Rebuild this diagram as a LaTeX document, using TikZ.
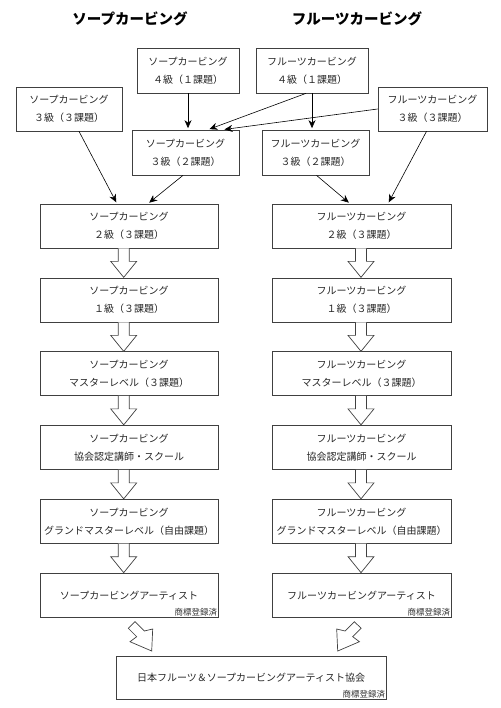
\documentclass[tikz,border=0pt]{standalone}
\usepackage{fontspec}
\setmainfont{Noto Sans CJK JP}
\usetikzlibrary{arrows.meta}
\begin{document}
\begin{tikzpicture}[x=1pt,y=-1pt,
 box/.style={draw=black!75, line width=0.7pt, inner sep=0pt, align=center, minimum height=44pt, font=\fontsize{10}{18}\selectfont, text=black!85},
 title/.style={font=\fontsize{14.5}{16}\selectfont\bfseries},
 tm/.style={font=\fontsize{8.5}{9}\selectfont, inner sep=1pt, anchor=south east, text=black!80},
 thin/.style={-{Stealth[length=8pt,width=7pt]}, line width=0.6pt, shorten >=1.5pt},
 hollow/.style={draw=black!75, line width=0.7pt, fill=white},
 vhollow/.pic={\draw[hollow] (-5.5,0) -- (-5.5,13) -- (-13,13) -- (0,29) -- (13,13) -- (5.5,13) -- (5.5,0);}
]
\useasboundingbox (0,0) rectangle (500,708);

\node[title] (t1) at (130,19) {ソープカービング};
\node[title] (t2) at (357,19) {フルーツカービング};

\node[box, minimum width=102pt, minimum height=45pt] (s4) at (188,70.5) {ソープカービング\\４級（１課題）};
\node[box, minimum width=112pt, minimum height=45pt] (f4) at (312,70.5) {フルーツカービング\\４級（１課題）};
\node[box, minimum width=106pt] (s33) at (69,109) {ソープカービング\\３級（３課題）};
\node[box, minimum width=109pt] (f33) at (432.5,109) {フルーツカービング\\３級（３課題）};
\node[box, minimum width=107pt, minimum height=45pt] (s32) at (185.5,152.5) {ソープカービング\\３級（２課題）};
\node[box, minimum width=107pt, minimum height=45pt] (f32) at (315.5,152.5) {フルーツカービング\\３級（２課題）};

\node[box, minimum width=178pt] (s2) at (129,226) {ソープカービング\\２級（３課題）};
\node[box, minimum width=178pt] (s1) at (129,300) {ソープカービング\\１級（３課題）};
\node[box, minimum width=178pt] (sm) at (129,373.5) {ソープカービング\\マスターレベル（３課題）};
\node[box, minimum width=178pt] (sk) at (129,447.5) {ソープカービング\\協会認定講師・スクール};
\node[box, minimum width=178pt] (sg) at (129,521.3) {ソープカービング\\グランドマスターレベル（自由課題）};
\node[box, minimum width=178pt] (sa) at (129,595.3) {ソープカービングアーティスト};
\node[tm] (sat) at (sa.south east) {商標登録済};

\node[box, minimum width=179pt] (f2) at (361.5,226) {フルーツカービング\\２級（３課題）};
\node[box, minimum width=179pt] (f1) at (361.5,300) {フルーツカービング\\１級（３課題）};
\node[box, minimum width=179pt] (fm) at (361.5,373.5) {フルーツカービング\\マスターレベル（３課題）};
\node[box, minimum width=179pt] (fk) at (361.5,447.5) {フルーツカービング\\協会認定講師・スクール};
\node[box, minimum width=179pt] (fg) at (361.5,521.3) {フルーツカービング\\グランドマスターレベル（自由課題）};
\node[box, minimum width=179pt] (fa) at (361.5,595.3) {フルーツカービングアーティスト};
\node[tm] (fat) at (fa.south east) {商標登録済};

\node[box, minimum width=270pt, minimum height=43pt] (jp) at (251,677.5) {日本フルーツ＆ソープカービングアーティスト協会};
\node[tm] (jpt) at (jp.south east) {商標登録済};

\draw[thin] (s4.south) -- (s4.south |- s32.north);
\draw[thin] ([xshift=-6pt]f4.south) -- ([xshift=22.5pt]s32.north);
\draw[thin] (f33.west) -- ([xshift=37.5pt]s32.north);
\draw[thin] (f4.south) -- (f4.south |- f32.north);
\draw[thin] ([xshift=10pt]s33.south) -- ([xshift=-12pt]s2.north);
\draw[thin] ([xshift=-2.5pt]s32.south) -- ([xshift=19pt]s2.north);
\draw[thin] ([xshift=1pt]f32.south) -- ([xshift=-11.5pt]f2.north);
\draw[thin] ([xshift=-6pt]f33.south) -- ([xshift=26.5pt]f2.north);

\foreach \n in {s2,s1,sm,sk,sg} \pic at ([xshift=-5.3pt]\n.south) {vhollow};
\foreach \n in {f2,f1,fm,fk,fg} \pic at ([xshift=-0.5pt]\n.south) {vhollow};

\draw[hollow] (128.3,628.3) -- (135,621.7) -- (144.3,631) -- (152.7,629) -- (151.7,651) -- (130,641.7) -- (136.7,636.7) -- cycle;
\draw[hollow] (361.1,628.3) -- (354.4,621.7) -- (345.1,631) -- (336.7,629) -- (337.7,651) -- (359.4,641.7) -- (352.7,636.7) -- cycle;
\end{tikzpicture}
\end{document}
